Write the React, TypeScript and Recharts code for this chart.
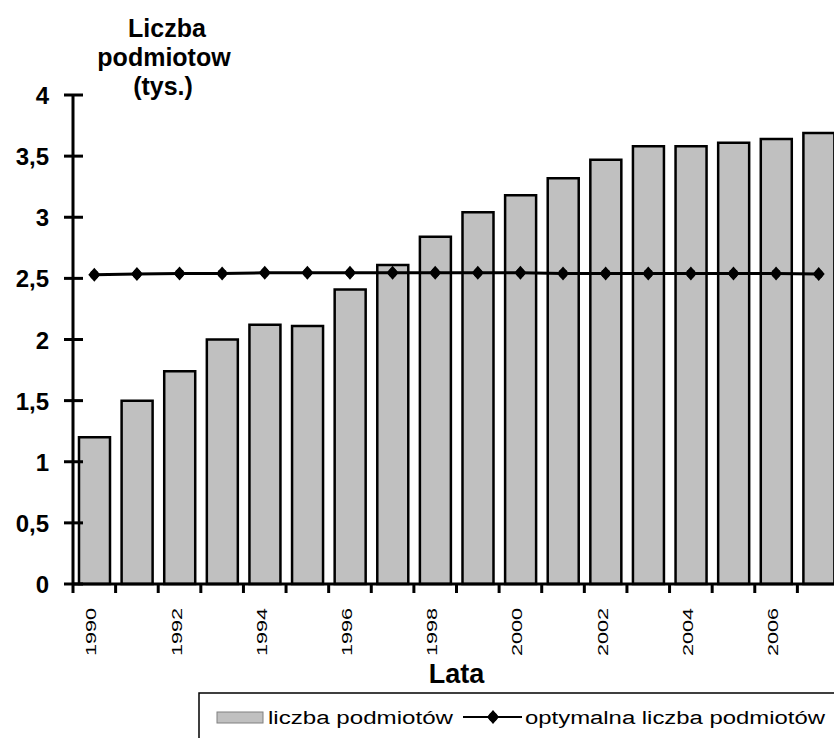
import React from 'react'
import { ComposedChart, Bar, Line, XAxis, YAxis } from 'recharts'

const years = ['1990', '1991', '1992', '1993', '1994', '1995', '1996', '1997', '1998', '1999', '2000', '2001', '2002', '2003', '2004', '2005', '2006', '2007']
const liczba = [1.2, 1.5, 1.74, 2.0, 2.12, 2.11, 2.41, 2.61, 2.84, 3.04, 3.18, 3.32, 3.47, 3.58, 3.58, 3.61, 3.64, 3.69]
const optymalna = [2.53, 2.535, 2.54, 2.54, 2.545, 2.545, 2.545, 2.545, 2.545, 2.545, 2.545, 2.54, 2.54, 2.54, 2.54, 2.54, 2.54, 2.535]
const yTicks = [0, 0.5, 1, 1.5, 2, 2.5, 3, 3.5, 4]

const data = years.map((year, i) => ({ year, liczba: liczba[i], optymalna: optymalna[i] }))

const FONT = '"Liberation Sans", Arial, sans-serif'

const fmt = (v: number) => String(v).replace('.', ',')

function YTick(props: any) {
  const { x, y, payload } = props
  return (
    <g>
      <line x1={x - 9} x2={x + 10} y1={y} y2={y} stroke="#000" strokeWidth={3} />
      <text x={x - 24} y={y + 9} textAnchor="end" fontFamily={FONT} fontWeight="bold" fontSize={24} fill="#000">
        {fmt(payload.value)}
      </text>
    </g>
  )
}

function XTick(props: any) {
  const { x, y, payload, index } = props
  const half = payload.offset ?? 21.3
  const tx = x + 2
  const ty = y + 24
  return (
    <g>
      <line x1={x - half} x2={x - half} y1={y} y2={y + 9} stroke="#000" strokeWidth={3} />
      {index % 2 === 0 && (
        <text
          x={tx}
          y={ty}
          transform={`rotate(-90 ${tx} ${ty})`}
          textAnchor="end"
          fontFamily={FONT}
          fontSize={15}
          textLength={48}
          lengthAdjust="spacingAndGlyphs"
          fill="#000"
        >
          {payload.value}
        </text>
      )}
    </g>
  )
}

function Marker({ cx, cy }: { cx: number; cy: number }) {
  return (
    <g>
      <path d={`M${cx} ${cy - 7} L${cx + 6} ${cy} L${cx} ${cy + 7} L${cx - 6} ${cy} Z`} fill="#000" />
      <circle cx={cx} cy={cy} r={4.5} fill="#000" />
    </g>
  )
}

export default function App() {
  return (
    <div style={{ position: 'absolute', left: 0, top: 0, width: 834, height: 738, overflow: 'hidden', background: '#fff' }}>
      <ComposedChart width={840} height={738} data={data} margin={{ top: 95, right: 0, left: 0, bottom: 0 }}>
        <XAxis
          dataKey="year"
          interval={0}
          height={154}
          tickSize={0}
          tickMargin={0}
          tick={<XTick />}
          axisLine={{ stroke: '#000', strokeWidth: 3 }}
          label={{ value: 'Lata', position: 'insideBottom', offset: 55, style: { fontFamily: FONT, fontWeight: 'bold', fontSize: 27, fill: '#000' } }}
        />
        <YAxis
          width={73}
          domain={[0, 4]}
          ticks={yTicks}
          interval={0}
          tickSize={0}
          tickMargin={0}
          tick={<YTick />}
          axisLine={{ stroke: '#000', strokeWidth: 3 }}
        />
        <Bar dataKey="liczba" barSize={31} fill="#c0c0c0" stroke="#000" strokeWidth={2.5} isAnimationActive={false} />
        <Line
          dataKey="optymalna"
          type="linear"
          stroke="#000"
          strokeWidth={3}
          dot={(p: any) => <Marker key={p.index} cx={p.cx} cy={p.cy} />}
          isAnimationActive={false}
        />
      </ComposedChart>
      <svg width={834} height={738} style={{ position: 'absolute', left: 0, top: 0, pointerEvents: 'none' }}>
        <g fontFamily={FONT} fontWeight="bold" fontSize={25} textAnchor="middle" fill="#000">
          <text x={167} y={37}>Liczba</text>
          <text x={164} y={66}>podmiotow</text>
          <text x={163} y={95}>(tys.)</text>
        </g>
        <rect x={199} y={693} width={700} height={100} fill="#fff" stroke="#000" strokeWidth={1.5} />
        <rect x={217} y={712} width={46} height={11} fill="#c0c0c0" stroke="#808080" strokeWidth={1} />
        <text x={268} y={724} fontFamily={FONT} fontSize={18} textLength={185} lengthAdjust="spacingAndGlyphs" fill="#000">
          liczba podmiotów
        </text>
        <line x1={463} x2={522} y1={717} y2={717} stroke="#000" strokeWidth={2} />
        <Marker cx={493} cy={717} />
        <text x={525} y={724} fontFamily={FONT} fontSize={18} textLength={300} lengthAdjust="spacingAndGlyphs" fill="#000">
          optymalna liczba podmiotów
        </text>
      </svg>
    </div>
  )
}
